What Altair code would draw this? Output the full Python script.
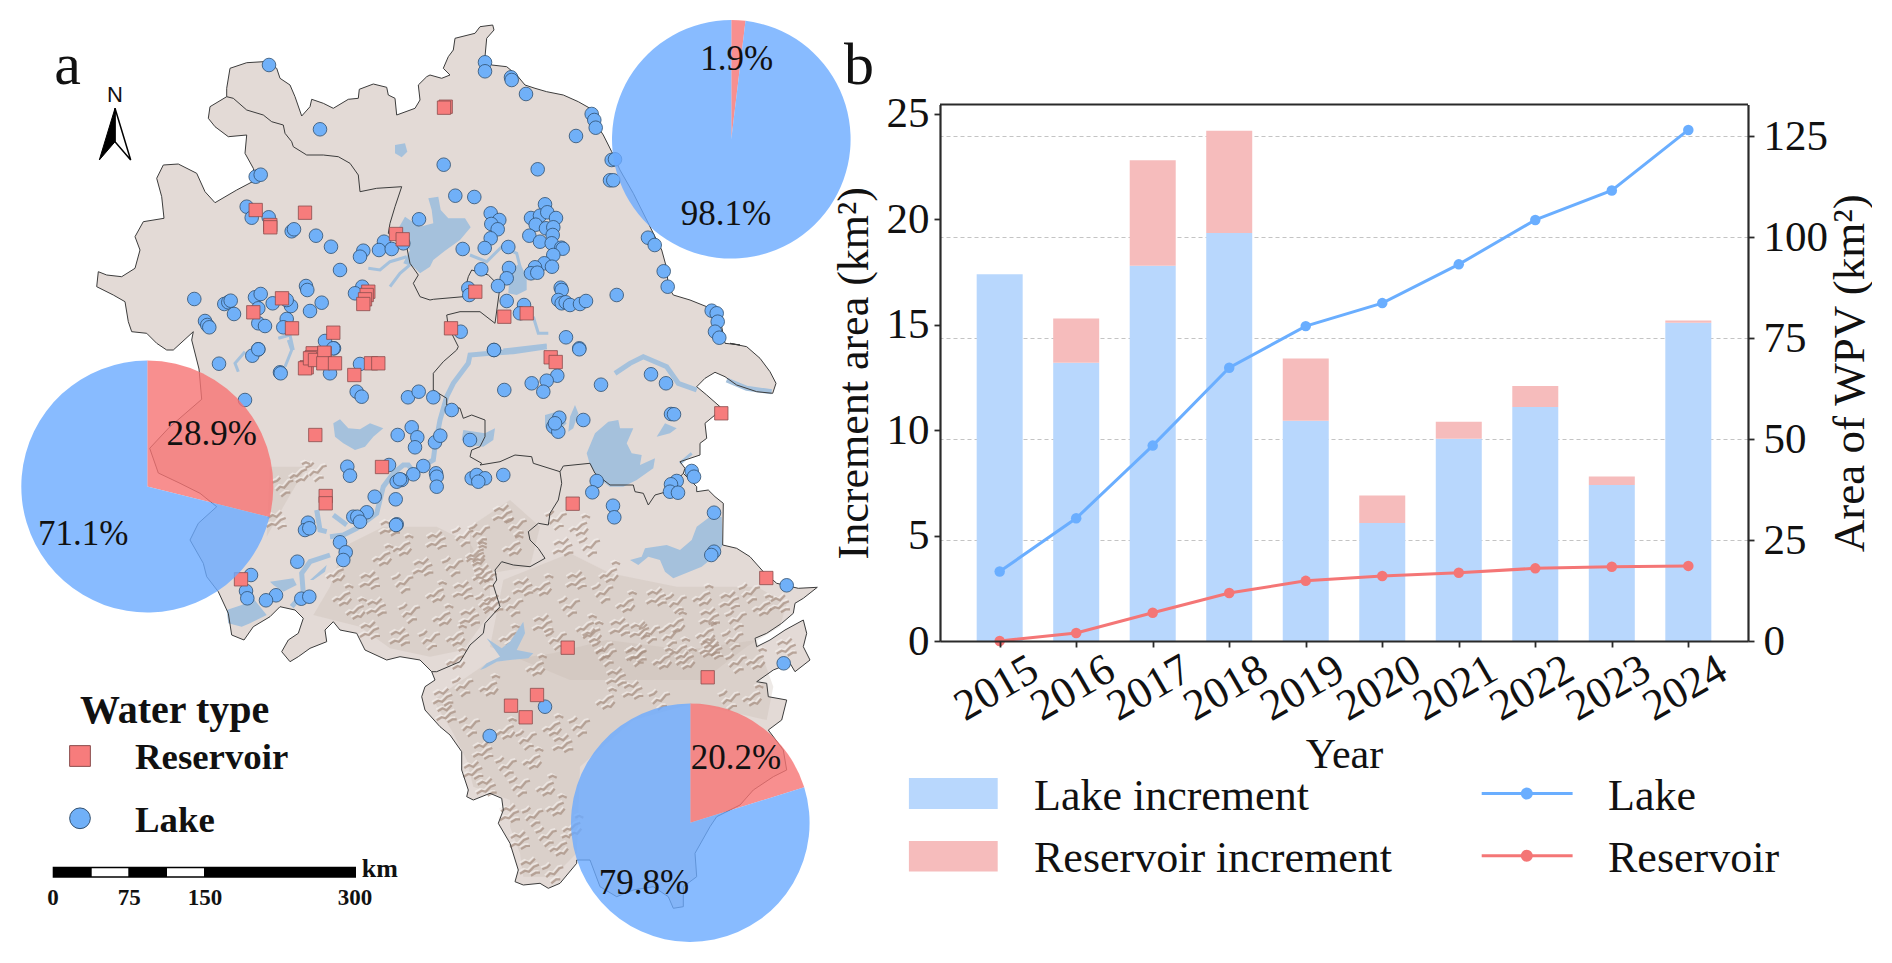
import altair as alt

FONT = "Liberation Serif"

def z(ox, oy, pts, k=3.0):
    return [[round(ox + p[0] / k, 1), round(oy + p[1] / k, 1)] for p in pts]

# ---------- panel b values ----------
YEARS = [2015, 2016, 2017, 2018, 2019, 2020, 2021, 2022, 2023, 2024]
LAKE_INC = [17.4, 13.2, 17.8, 19.35, 10.45, 5.6, 9.6, 11.1, 7.4, 15.1]
TOTAL_INC = [17.4, 15.3, 22.8, 24.2, 13.4, 6.9, 10.4, 12.1, 7.8, 15.2]
LAKE_AREA = [17.2, 30.4, 48.4, 67.7, 78.0, 83.7, 93.3, 104.3, 111.6, 126.6]
RES_AREA = [0.0, 2.0, 7.0, 11.9, 14.9, 16.1, 16.9, 18.0, 18.4, 18.6]

# ---------- map outlines ----------
OUTER = (
    z(90, 10, [(410,235),(420,175),(470,158),(520,155),(560,175),(570,205),(600,225),(615,260),(635,318),(660,290),(665,268),(700,280),(730,295),(775,268),(805,265),(808,238),(850,222),(890,232),(895,255),(915,265),(920,315),(975,295),(990,270),(985,225),(1010,200)])
    + z(420, 10, [(30,195),(65,205),(90,195),(70,175),(85,140),(100,120),(105,85),(165,70),(180,50),(218,45),(222,60),(200,85),(195,140),(215,165),(260,170),(290,195),(315,225),(345,235),(380,245),(430,255),(475,275),(510,295),(530,345),(550,375),(575,425),(600,480),(640,550),(680,630),(705,680),(725,720),(740,775),(745,830),(760,855),(810,870),(860,890),(900,925),(915,1000),(960,1005)])
    + z(470, 340, [(780,10),(830,20),(870,55),(900,95),(918,130),(908,160),(860,155),(800,135),(765,110),(735,97),(705,115),(680,140),(710,165),(750,200),(735,225),(705,250),(710,295),(690,310),(690,345),(630,365),(645,385),(640,400),(680,440),(680,455),(715,450),(735,470),(760,490),(758,615),(800,625),(840,650),(880,695),(920,730),(985,745),(1042,742),(1000,775),(975,790),(970,820),(935,850),(890,880),(855,895),(860,920),(900,900),(945,870),(1000,840),(1010,880),(1000,920),(1020,960)])
    + z(420, 620, [(1170,120),(1125,155),(1110,130),(1060,150),(1010,185),(1040,190),(1045,230),(1100,240),(1085,300),(1045,330),(1090,390),(1100,450),(1060,470),(1000,510),(960,555),(890,590),(870,620),(825,700),(830,770),(790,800),(790,860),(760,865),(745,830),(700,800),(640,810),(590,830),(540,800),(510,720),(470,720),(470,730),(420,790),(385,805),(360,790),(310,795),(285,785),(295,750),(270,670),(235,610),(250,570),(245,535),(210,520),(160,540),(140,530),(145,510),(125,450),(125,395),(90,345),(60,320),(15,270),(5,230),(15,200),(45,180),(35,155)])
    + z(170, 340, [(750,960),(690,950),(650,960),(585,930),(560,880),(510,870),(490,845),(465,870),(470,905),(420,925),(385,950),(360,965),(335,935),(355,900),(385,880),(400,835),(375,810),(330,800),(300,830),(250,860),(222,900),(185,885),(175,820),(145,755),(110,710),(100,670),(60,600),(85,550),(140,500),(90,460),(30,430),(-35,399),(-61,325),(-2,262),(95,178),(87,87),(65,0)])
    + z(90, 10, [(310,965),(250,1020),(230,1020),(200,1000),(170,970),(125,965),(115,935),(105,875),(70,855),(20,830),(25,785),(50,795),(95,800),(135,775),(150,720),(135,680),(160,635),(222,625),(215,560),(200,505),(220,465),(265,462),(320,490),(345,545),(375,578),(440,540),(497,510),(490,475),(465,430),(470,375),(415,380),(375,350),(355,325),(360,290),(410,260)])
)
BORDERS = [
    z(90, 10, [(410,260),(430,265),(470,300),(520,315),(545,335),(580,345),(585,370),(605,395),(610,410),(650,435),(700,435),(745,440),(780,460),(805,495),(810,545),(860,535),(935,530),(915,590),(900,640),(895,670),(950,710),(960,760),(985,795),(970,820),(990,860),(1020,870)])
    + z(420, 10, [(40,868),(130,860),(145,800),(155,780),(205,795),(240,830),(225,940),(180,905),(120,905),(80,915),(85,950),(115,1010)])
    + z(170, 340, [(860,30),(820,65),(790,100),(790,150),(830,175),(830,195),(870,205),(880,235),(905,225),(945,240),(945,290),(930,320),(905,330),(900,350),(935,370)])
    + z(470, 340, [(30,375),(90,365),(135,345),(185,350),(190,370),(270,395),(280,378),(360,370),(375,400),(420,435),(490,435),(495,455),(520,460),(535,495),(555,465),(590,455),(640,400)]),
    z(470, 340, [(270,395),(275,430),(265,480),(240,520),(235,555),(205,550),(175,575),(180,600),(205,625),(225,655),(180,680),(130,675),(95,665),(75,690),(80,720),(70,735),(90,800),(45,850),(40,880),(0,915)])
    + z(420, 620, [(120,125),(50,155),(35,155)]),
]

WATER = [
    z(420, 10, [(25,565),(55,560),(62,600),(85,625),(135,625),(152,652),(120,690),(75,722),(40,750),(30,770),(0,790),(-20,770),(-50,760),(-30,720),(-50,700),(-62,650),(-45,620),(0,650),(40,640),(35,600)]),
    z(420, 10, [(270,780),(300,760),(320,800),(320,840),(290,855),(265,850)]),
    z(90, 10, [(915,405),(945,400),(952,425),(935,442),(915,430)]),
    z(170, 340, [(490,250),(510,238),(535,265),(570,268),(600,250),(640,265),(610,290),(585,320),(555,330),(520,310),(495,290)]),
    z(470, 340, [(-20,270),(45,280),(75,265),(70,300),(40,320),(0,315),(-25,300)]),
    z(470, 340, [(225,225),(260,215),(290,250),(250,290),(225,260)]),
    z(470, 340, [(315,195),(325,220),(310,265),(295,275),(300,230)]),
    z(470, 340, [(350,340),(375,280),(415,245),(445,240),(450,265),(490,265),(470,310),(485,340),(515,345),(510,375),(555,355),(550,385),(500,420),(460,440),(420,440),(385,415),(360,375)]),
    z(470, 340, [(560,290),(585,250),(620,265),(600,280)]),
    z(470, 340, [(480,660),(515,650),(525,625),(590,615),(630,630),(665,600),(680,560),(720,530),(755,530),(758,615),(745,640),(695,680),(610,715),(585,695),(570,660),(535,650),(505,675)]),
    z(470, 340, [(30,990),(50,970),(90,950),(50,895),(95,925),(120,905),(160,845),(165,880),(140,930),(190,940),(175,955),(120,960),(80,965),(45,985)]),
    z(170, 340, [(170,810),(215,795),(250,775),(290,825),(240,850),(215,860),(175,850)]),
    z(170, 340, [(300,725),(370,715),(380,735),(340,755),(310,735)]),
    z(170, 340, [(420,720),(470,675),(465,695),(430,720)]),
]
RIVERS_THICK = [
    z(170, 340, [(365,800),(400,760),(395,700),(420,665),(480,645)]),
    z(170, 340, [(480,590),(520,585),(560,565),(620,520),(640,440),(670,400),(700,375),(715,375),(730,395),(790,360),(795,320),(810,240),(830,170),(850,130),(895,70),(900,45),(960,40),(1020,35)]) + z(470, 340, [(60,40),(130,35),(230,20)]),
    z(470, 340, [(435,100),(480,70),(520,50),(590,80),(625,130),(680,150)]),
    z(470, 340, [(770,120),(830,145),(905,155)]),
    z(170, 340, [(440,510),(450,570),(470,575)]),
    z(170, 340, [(490,525),(530,555)]),
]
RIVERS_THIN = [
    z(90, 10, [(835,775),(870,780),(900,755),(950,740)]),
    z(90, 10, [(900,830),(930,790),(965,760)]),
    z(420, 10, [(150,735),(200,755),(245,710),(290,730),(300,770)]),
    z(420, 10, [(340,920),(355,970),(385,970)]),
    z(170, 340, [(355,0),(365,30),(345,80)]),
    z(170, 340, [(225,35),(195,70),(205,95)]),
    z(470, 340, [(630,370),(665,340)]),
    z(90, 10, [(565,985),(600,975),(610,1020)]),
    z(420, 10, [(250,1020),(380,1005)]),
]
# soft brown tint of the hilly south
HILLS = [
    z(170, 340, [(520,620),(640,560),(800,560),(900,610),(960,720),(960,820),(880,930),(780,950),(660,925),(570,860),(430,825),(480,740)]),
    z(470, 340, [(0,560),(120,480),(210,560),(180,680),(60,700),(0,650)]),
    z(470, 340, [(100,720),(300,640),(420,700),(620,740),(860,740),(950,790),(930,860),(830,920),(700,1020),(300,1020),(60,920)]),
    z(420, 620, [(40,240),(200,130),(400,100),(560,60),(800,90),(1010,60),(1060,200),(1040,300),(820,250),(640,300),(480,440),(470,700),(400,770),(310,770),(300,700),(270,620),(270,540),(160,500),(140,420),(100,340)]),
    z(170, 340, [(300,380),(410,380),(340,500),(290,590)]),
]
# hill-shading: small ridge motifs placed where the picture shows ridges
MOTIFS = [
    [[[-10,5],[-6,2],[-3,3],[2,-2],[7,-4]], [[-4,9],[1,6],[4,7],[8,2]], [[2,-9],[6,-11],[10,-9]]],
    [[[-9,-2],[-4,-5],[0,-3],[5,-8]], [[-10,7],[-5,4],[-1,5],[4,0],[9,-2]], [[1,9],[6,6],[10,6]]],
    [[[-7,4],[-3,0],[1,1],[6,-5],[10,-6]], [[-11,-4],[-6,-6],[-3,-9]], [[-2,10],[3,6],[7,6]]],
]
CENTERS = (
    z(170, 340, [(700,620),(800,600),(880,590),(640,650),(760,680),(850,680),(920,650),(600,720),(700,730),(800,760),(880,750),(950,720),(520,770),(620,800),(720,820),(820,830),(900,830),(950,790),(560,810),(690,890),(780,900),(860,890),(600,870),(340,440),(390,400),(320,540),(440,395),(500,700),(660,560)])
    + z(470, 340, [(30,580),(20,640),(100,520),(140,560),(130,620),(40,700),(260,540),(330,560),(280,620),(360,620),(420,700),(160,740),(130,800),(220,740),(320,720),(400,760),(470,790),(560,770),(620,790),(700,770),(780,780),(840,760),(120,890),(220,850),(300,800),(350,860),(450,860),(540,880),(620,850),(720,830),(800,840),(880,800),(930,790),(500,950),(630,930),(720,920),(790,900),(860,960),(950,920),(400,930),(200,980),(70,790),(260,900),(580,960)])
    + z(420, 620, [(70,230),(130,200),(210,200),(80,280),(150,320),(260,330),(190,390),(320,360),(400,320),(160,450),(260,440),(340,420),(430,370),(480,320),(560,240),(640,210),(720,240),(800,120),(880,90),(950,130),(1000,230),(650,100),(560,110),(520,40),(660,30),(750,50),(860,40),(200,500),(300,500),(380,500),(270,580),(340,590),(410,560),(300,660),(380,650),(420,680),(330,740),(400,760),(110,120),(590,170),(930,240),(460,620)])
)
RIDGES = []
for i, c in enumerate(CENTERS):
    for stroke in MOTIFS[i % 3]:
        RIDGES.append([[round(c[0] + a, 1), round(c[1] + b, 1)] for a, b in stroke])
RIDGE_LIGHT = [[[p[0] - 1.5, p[1] - 2] for p in r] for r in RIDGES]

LAKES = (
    z(90, 10, [(537,165),(690,358),(497,500),(512,494),(470,590),(485,623),(536,622),(605,664),(612,658),(678,677),(723,710),(820,722),(810,740),(882,695),(867,720),(905,717),(940,700),(987,628),(750,780),(648,828),(652,840),(817,830),(795,850),(313,867),(403,882),(415,877),(422,872),(432,912),(345,933),(352,945),(358,952),(495,862),(512,852),(548,880),(505,895),(603,888),(590,870),(695,878),(660,903),(505,940),(525,948),(590,927),(580,952),(705,993),(505,1018),(732,1015)])
    + z(420, 10, [(195,157),(195,184),(273,202),(275,210),(318,252),(515,312),(523,330),(527,353),(468,378),(71,464),(353,478),(575,450),(585,448),(570,511),(580,511),(106,557),(163,561),(375,583),(212,610),(238,630),(214,642),(233,658),(212,685),(333,624),(360,617),(382,607),(408,624),(347,644),(378,655),(400,652),(328,677),(360,695),(398,675),(395,700),(424,713),(428,716),(128,717),(194,714),(265,711),(400,735),(373,760),(345,772),(333,790),(352,788),(396,770),(684,683),(704,705),(731,784),(743,830),(184,778),(267,774),(260,805),(234,828),(260,873),(145,835),(148,855),(590,855),(422,833),(425,840),(415,870),(425,880),(437,877),(450,885),(480,882),(498,873),(312,885),(300,910),(122,965),(438,982),(222,1020),(478,1015),(875,902),(890,910),(893,935),(885,965),(898,983)])
    + z(170, 340, [(147,71),(247,47),(265,28),(330,97),(332,100),(225,180),(490,25),(480,100),(570,72),(560,155),(575,170),(714,172),(746,155),(790,172),(845,210),(972,30),(1003,150),(683,285),(725,262),(742,292),(735,322),(795,307),(811,287),(900,300),(657,375),(532,380),(540,407),(760,378),(730,403),(695,420),(680,425),(690,418),(798,400),(800,410),(800,440),(614,470),(677,478),(590,517),(550,530),(562,530),(570,545),(680,553),(678,555),(414,548),(405,570),(418,565),(510,607),(527,637),(520,660),(382,665),(243,705),(228,753),(232,775),(318,766),(288,781),(394,776),(418,770),(905,415),(920,405),(945,415),(925,425),(1000,405)])
    + z(470, 340, [(328,28),(262,107),(230,122),(220,155),(185,130),(393,134),(543,103),(588,130),(603,222),(612,223),(340,240),(268,233),(250,260),(265,275),(255,250),(380,423),(367,457),(429,497),(433,532),(732,518),(732,635),(724,645),(620,423),(603,433),(600,455),(624,458),(665,393),(672,410),(950,736),(941,970)])
    + z(420, 620, [(375,260),(209,348)])
)
RESERVOIRS = (
    z(90, 10, [(497,600),(645,608),(541,645),(541,652),(918,672),(938,688),(576,865),(490,907),(606,955),(730,968),(835,845),(830,855),(825,868),(820,882),(668,1030),(704,1030)])
    + z(420, 10, [(77,290),(72,293),(166,845),(253,920),(320,910),(93,955)])
    + z(170, 340, [(410,82),(405,85),(425,52),(420,55),(435,60),(463,38),(460,70),(495,70),(553,105),(603,70),(625,70),(436,285),(636,381),(467,468),(467,490),(213,718)])
    + z(470, 340, [(242,52),(257,66),(754,220),(308,491),(889,714),(293,923)])
    + z(420, 620, [(863,172),(351,225),(273,257),(317,292)])
)

# ---------- pies ----------
PIES = [
    {"cx": 147.3, "cy": 486.5, "r": 126.0, "red": 28.9},
    {"cx": 731.3, "cy": 139.3, "r": 119.3, "red": 1.9},
    {"cx": 690.3, "cy": 822.7, "r": 119.3, "red": 20.2},
]
PIE_LABELS = [(211.8, 433.6, "28.9%"), (83.3, 534.4, "71.1%"), (736.7, 59.3, "1.9%"), (726.0, 214.0, "98.1%"), (736.0, 758.0, "20.2%"), (644.0, 883.0, "79.8%")]

SX = alt.Scale(domain=[8, 940], range=[0, 932], nice=False, zero=False)
SY = alt.Scale(domain=[8, 955], range=[0, 947], nice=False, zero=False)
PROJ = alt.Projection(type="identity", scale=1, translate=[-8, -8]).to_dict()
X = alt.X("x:Q", scale=SX, axis=None)
Y = alt.Y("y:Q", scale=SY, axis=None)
X2 = alt.X2("x2:Q")
Y2 = alt.Y2("y2:Q")

def polys(rings):
    return alt.Data(values=[{"type": "Feature", "properties": {}, "geometry": {"type": "Polygon", "coordinates": [r + [r[0]]]}} for r in rings])

def lines(paths):
    return alt.Data(values=[{"type": "Feature", "properties": {}, "geometry": {"type": "LineString", "coordinates": p}} for p in paths])

def pts(xy):
    return alt.Data(values=[{"x": p[0], "y": p[1]} for p in xy])

def txt(s, x, y, size, bold=False, align="left", baseline="alphabetic", font=FONT, color="#111111"):
    return alt.Chart(alt.Data(values=[{"x": x, "y": y, "t": s}])).mark_text(
        font=font, fontSize=size, fontWeight="bold" if bold else "normal", align=align, baseline=baseline, color=color
    ).encode(x=X, y=Y, text="t:N")

def box(x, y, x2, y2, fill):
    return alt.Chart(alt.Data(values=[{"x": x, "y": y, "x2": x2, "y2": y2}])).mark_rect(fill=fill).encode(x=X, x2=X2, y=Y, y2=Y2)

layers = [
    alt.Chart(polys([OUTER])).mark_geoshape(fill="#e3dad6", stroke="none", strokeWidth=0).project(**PROJ),
    alt.Chart(polys(HILLS)).mark_geoshape(fill="#c8b8af", opacity=0.3, strokeWidth=0).project(**PROJ),
    alt.Chart(lines(RIDGE_LIGHT)).mark_geoshape(filled=False, stroke="#f4efec", strokeWidth=1.6, opacity=0.7).project(**PROJ),
    alt.Chart(lines(RIDGES)).mark_geoshape(filled=False, stroke="#a68e80", strokeWidth=2.2, opacity=0.7).project(**PROJ),
    alt.Chart(polys(WATER)).mark_geoshape(fill="#a5c1dc", strokeWidth=0).project(**PROJ),
    alt.Chart(lines(RIVERS_THICK)).mark_geoshape(filled=False, stroke="#a5c1dc", strokeWidth=5).project(**PROJ),
    alt.Chart(lines(RIVERS_THIN)).mark_geoshape(filled=False, stroke="#a5c1dc", strokeWidth=3).project(**PROJ),
    alt.Chart(polys([OUTER])).mark_geoshape(filled=False, stroke="#3c3c3c", strokeWidth=1.0).project(**PROJ),
    alt.Chart(lines(BORDERS)).mark_geoshape(filled=False, stroke="#3c3c3c", strokeWidth=1.0).project(**PROJ),
    alt.Chart(pts(LAKES)).mark_point(shape="circle", filled=True, size=185, fill="#70b0f8", stroke="#2f4f70", strokeWidth=0.8, opacity=1).encode(x=X, y=Y),
    alt.Chart(pts(RESERVOIRS)).mark_point(shape="square", filled=True, size=178, fill="#f77c7c", stroke="#8a4c4c", strokeWidth=0.8, opacity=1).encode(x=X, y=Y),
]

TH = alt.Scale(domain=[0, 100], range=[0, 6.283185])
for p in PIES:
    rows = [
        {"x": p["cx"], "y": p["cy"], "a": 0, "b": p["red"], "c": "#f67373"},
        {"x": p["cx"], "y": p["cy"], "a": p["red"], "b": 100, "c": "#6aaaff"},
    ]
    layers.append(
        alt.Chart(alt.Data(values=rows)).mark_arc(radius=p["r"], innerRadius=0, opacity=0.8).encode(
            x=X, y=Y,
            theta=alt.Theta("a:Q", scale=TH, stack=None),
            theta2=alt.Theta2("b:Q"),
            fill=alt.Fill("c:N", scale=None),
        )
    )
for lx, ly, s in PIE_LABELS:
    layers.append(txt(s, lx, ly, 35, align="center", baseline="middle"))

# letters
layers.append(txt("a", 67.6, 84, 60, align="center"))
layers.append(txt("b", 859, 84, 60, align="center"))

# north arrow
ARROW_L = z(90, 10, [(75,295),(28,450),(75,395)])
ARROW_R = z(90, 10, [(75,295),(122,450),(75,395)])
layers.append(alt.Chart(polys([ARROW_R])).mark_geoshape(fill="#ffffff", stroke="#000000", strokeWidth=1.5).project(**PROJ))
layers.append(alt.Chart(polys([ARROW_L])).mark_geoshape(fill="#000000", stroke="#000000", strokeWidth=1).project(**PROJ))
layers.append(txt("N", 115, 102, 22, align="center", font="Liberation Sans"))

# water type legend
layers.append(txt("Water type", 80, 722.7, 40, bold=True))
layers.append(alt.Chart(pts([[80, 756]])).mark_point(shape="square", filled=True, size=430, fill="#f77c7c", stroke="#8a4c4c", strokeWidth=1, opacity=1).encode(x=X, y=Y))
layers.append(alt.Chart(pts([[80, 818.3]])).mark_point(shape="circle", filled=True, size=430, fill="#70b0f8", stroke="#2f4f70", strokeWidth=1, opacity=1).encode(x=X, y=Y))
layers.append(txt("Reservoir", 135, 769.3, 36.8, bold=True))
layers.append(txt("Lake", 135, 831.7, 36.8, bold=True))

# scale bar
layers.append(box(52.7, 866.7, 356, 877.7, "#000000"))
layers.append(box(91.7, 868.2, 128.3, 876.2, "#ffffff"))
layers.append(box(167, 868.2, 204, 876.2, "#ffffff"))
layers.append(txt("km", 361.7, 877.3, 26, bold=True))
for lab, lx in [("0", 53), ("75", 129.3), ("150", 205), ("300", 355)]:
    layers.append(txt(lab, lx, 905, 23, bold=True, align="center"))

# legend of panel b
layers.append(box(908.9, 778, 997.7, 809, "#b8d7fd"))
layers.append(box(908.9, 841, 997.7, 871.6, "#f6bcbc"))
layers.append(txt("Lake increment", 1034, 809.6, 44))
layers.append(txt("Reservoir increment", 1034, 872, 44))
for col, ly, lab in [("#6aaeff", 793.6, "Lake"), ("#f47676", 855.7, "Reservoir")]:
    layers.append(alt.Chart(alt.Data(values=[{"x": 1481.7, "y": ly}, {"x": 1572.6, "y": ly}])).mark_line(color=col, strokeWidth=3).encode(x=X, y=Y))
    layers.append(alt.Chart(pts([[1526.8, ly]])).mark_point(shape="circle", filled=True, size=100, fill=col, stroke=col, opacity=1).encode(x=X, y=Y))
    layers.append(txt(lab, 1608, ly + 16, 44))

panel_a = alt.layer(*layers).properties(width=932, height=947)

# ---------- panel b ----------
rows = [{"year": y, "lake": l, "total": t, "la": a, "ra": r} for y, l, t, a, r in zip(YEARS, LAKE_INC, TOTAL_INC, LAKE_AREA, RES_AREA)]
src = alt.Data(values=rows)
XB = alt.Scale(domain=[2014.22, 2024.78], nice=False, zero=False, padding=0)
YL = alt.Scale(domain=[0, 25.45], range=[633, 96.5], nice=False, zero=False)
YR = alt.Scale(domain=[0, 132.9], range=[633, 96.5], nice=False, zero=False)
ax_common = dict(labelFont=FONT, titleFont=FONT, labelColor="#111111", titleColor="#111111", titleFontWeight="normal",
                 domainColor="#2a2a2a", tickColor="#2a2a2a", domainWidth=2.2, tickWidth=1.8, tickSize=6)
x_axis = alt.Axis(values=YEARS, format="d", labelAngle=-30, labelAlign="center", labelBaseline="middle", labelFontSize=44,
                  labelPadding=41, labelOffset=-3.5, labelOverlap=False, title="Year", titleFontSize=42, titleY=113, titleBaseline="middle",
                  grid=False, zindex=1, **ax_common)
xe = alt.X("year:Q", scale=XB, axis=x_axis)
left_axis = alt.Axis(values=[0, 5, 10, 15, 20, 25], labelFontSize=43, labelPadding=5, title="Increment area (km²)", titleFontSize=44,
                     titleX=-86, titleBaseline="middle", grid=False, zindex=1, **ax_common)
right_axis = alt.Axis(orient="right", values=[0, 25, 50, 75, 100, 125], labelFontSize=43, labelPadding=9, title="Area of WPV (km²)", titleFontSize=45,
                      titleX=101, titleAngle=270, titleBaseline="middle", grid=True, gridColor="#c4c4c4", gridDash=[4, 3], gridWidth=1.2, **ax_common)

bars_lake = alt.Chart(src).mark_bar(size=46, color="#b8d7fd").encode(x=xe, y=alt.Y("lake:Q", scale=YL, axis=left_axis))
bars_res = alt.Chart(src).mark_bar(size=46, color="#f6bcbc").encode(x=xe, y=alt.Y("lake:Q", scale=YL, axis=None), y2=alt.Y2("total:Q"))
top_rule = alt.Chart(alt.Data(values=[{"v": 25.45}])).mark_rule(color="#2a2a2a", strokeWidth=2.2).encode(
    y=alt.Y("v:Q", scale=YL, axis=None), x=alt.value(0), x2=alt.value(808))
line_lake = alt.Chart(src).mark_line(color="#6aaeff", strokeWidth=3).encode(x=xe, y=alt.Y("la:Q", scale=YR, axis=right_axis))
pt_lake = alt.Chart(src).mark_point(shape="circle", filled=True, size=110, color="#6aaeff", opacity=1).encode(x=xe, y=alt.Y("la:Q", scale=YR, axis=None))
line_res = alt.Chart(src).mark_line(color="#f47676", strokeWidth=3).encode(x=xe, y=alt.Y("ra:Q", scale=YR, axis=None))
pt_res = alt.Chart(src).mark_point(shape="circle", filled=True, size=110, color="#f47676", opacity=1).encode(x=xe, y=alt.Y("ra:Q", scale=YR, axis=None))

panel_b = alt.layer(bars_lake, bars_res, top_rule, line_lake, pt_lake, line_res, pt_res).resolve_scale(y="independent").properties(width=808, height=633)

chart = alt.hconcat(panel_a, panel_b, spacing=0, bounds="flush").properties(padding=0, background="#ffffff").configure_view(stroke=None)
chart.save("out.html", embed_options={"renderer": "svg", "actions": False})
